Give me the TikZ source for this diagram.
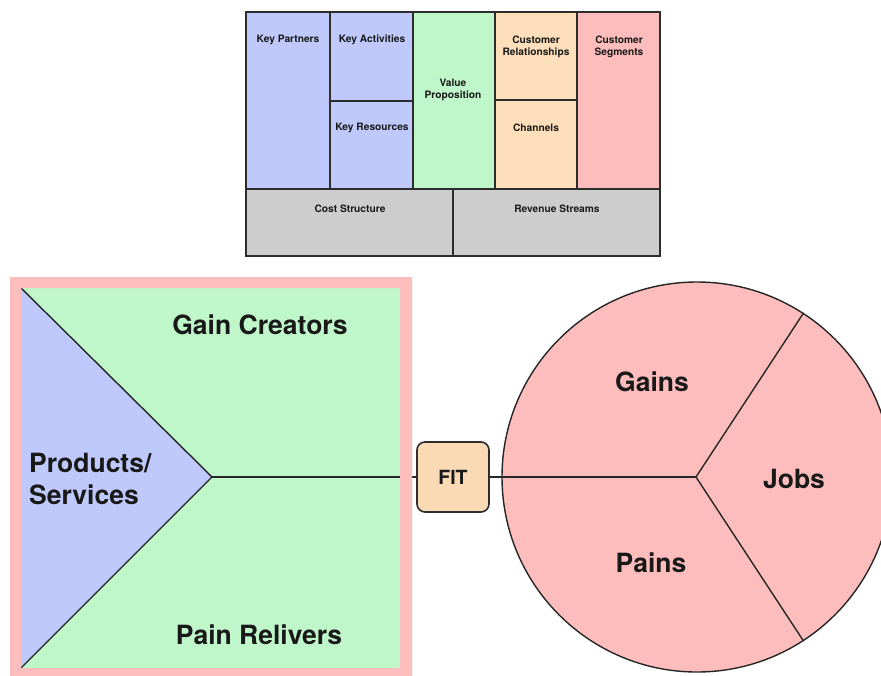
\documentclass[tikz,border=0pt]{standalone}
\usepackage{fontspec}
\setmainfont{TeX Gyre Heros}
\definecolor{cblue}{RGB}{191,201,252}
\definecolor{cgreen}{RGB}{192,247,202}
\definecolor{cpink}{RGB}{253,189,189}
\definecolor{corange}{RGB}{253,223,188}
\definecolor{cfit}{RGB}{250,218,180}
\definecolor{cgray}{RGB}{205,205,205}
\definecolor{cline}{RGB}{45,45,45}
\definecolor{ctext}{RGB}{25,25,25}
\tikzset{
  cellline/.style={draw=cline, line width=2pt},
  small/.style={font=\fontsize{10.2}{12}\selectfont\bfseries, text=ctext, align=center, inner sep=0pt},
  big/.style={font=\fontsize{26.5}{31.5}\selectfont\bfseries, text=ctext, align=left, inner sep=0pt},
  thin/.style={draw=black!85, line width=1.4pt},
  fitbox/.style={draw=cline, line width=1.6pt, fill=cfit, rounded corners=8pt, minimum width=72pt, minimum height=70pt, font=\fontsize{19.5}{22}\selectfont\bfseries, text=ctext},
  pie/.style={circle, draw=black!85, line width=1.4pt, fill=cpink, minimum size=390pt, inner sep=0pt}
}
\begin{document}
\begin{tikzpicture}[x=1pt,y=-1pt]
\useasboundingbox (0,0) rectangle (881,675);
\fill[white] (0,0) rectangle (881,675);
% ---------- Business model canvas ----------
\draw[cellline, fill=cblue] (246,12) rectangle (330,189);
\draw[cellline, fill=cblue] (330,12) rectangle (413,101);
\draw[cellline, fill=cblue] (330,101) rectangle (413,189);
\draw[cellline, fill=cgreen] (413,12) rectangle (495,189);
\draw[cellline, fill=corange] (495,12) rectangle (577,100);
\draw[cellline, fill=corange] (495,100) rectangle (577,189);
\draw[cellline, fill=cpink] (577,12) rectangle (660,189);
\draw[cellline, fill=cgray] (246,189) rectangle (453,256);
\draw[cellline, fill=cgray] (453,189) rectangle (660,256);
\node[small] (kp) at (288,40) {Key Partners};
\node[small] (ka) at (372,40) {Key Activities};
\node[small] (kr) at (372,128) {Key Resources};
\node[small] (vp) at (453,90) {Value\\Proposition};
\node[small] (cr) at (536,47) {Customer\\Relationships};
\node[small] (ch) at (536,128) {Channels};
\node[small] (cs) at (619,47) {Customer\\Segments};
\node[small] (cost) at (350,209) {Cost Structure};
\node[small] (rev) at (557,209) {Revenue Streams};
% ---------- Value map ----------
\fill[cgreen] (21,288) rectangle (400,668);
\coordinate (tl) at (21,288);
\coordinate (bl) at (21,668);
\coordinate (apex) at (212,477);
\fill[cblue] (tl) -- (apex) -- (bl) -- cycle;
\draw[thin] (tl) -- (apex) -- (bl);
\node[fitbox] (fit) at (453,477) {FIT};
\draw[thin] (apex) -- (fit.west);
\fill[cpink, even odd rule] (10,277) rectangle (412,676) (21,288) rectangle (400,668);
\node[big, anchor=north] (gc) at (260,315) {Gain Creators};
\node[big, anchor=north] (pr) at (259,625) {Pain Relivers};
\node[big, anchor=west] (ps) at (29,479) {Products/\\Services};
% ---------- Customer profile ----------
\node[pie] (circ) at (697,477) {};
\coordinate (cc) at (696,477);
\draw[thin] (fit.east) -- (cc);
\draw[thin] (cc) -- (circ.57);
\draw[thin] (cc) -- (circ.-57);
\node[big] (gains) at (652,382) {Gains};
\node[big] (jobs) at (794,479) {Jobs};
\node[big] (pains) at (651,563) {Pains};
\end{tikzpicture}
\end{document}
